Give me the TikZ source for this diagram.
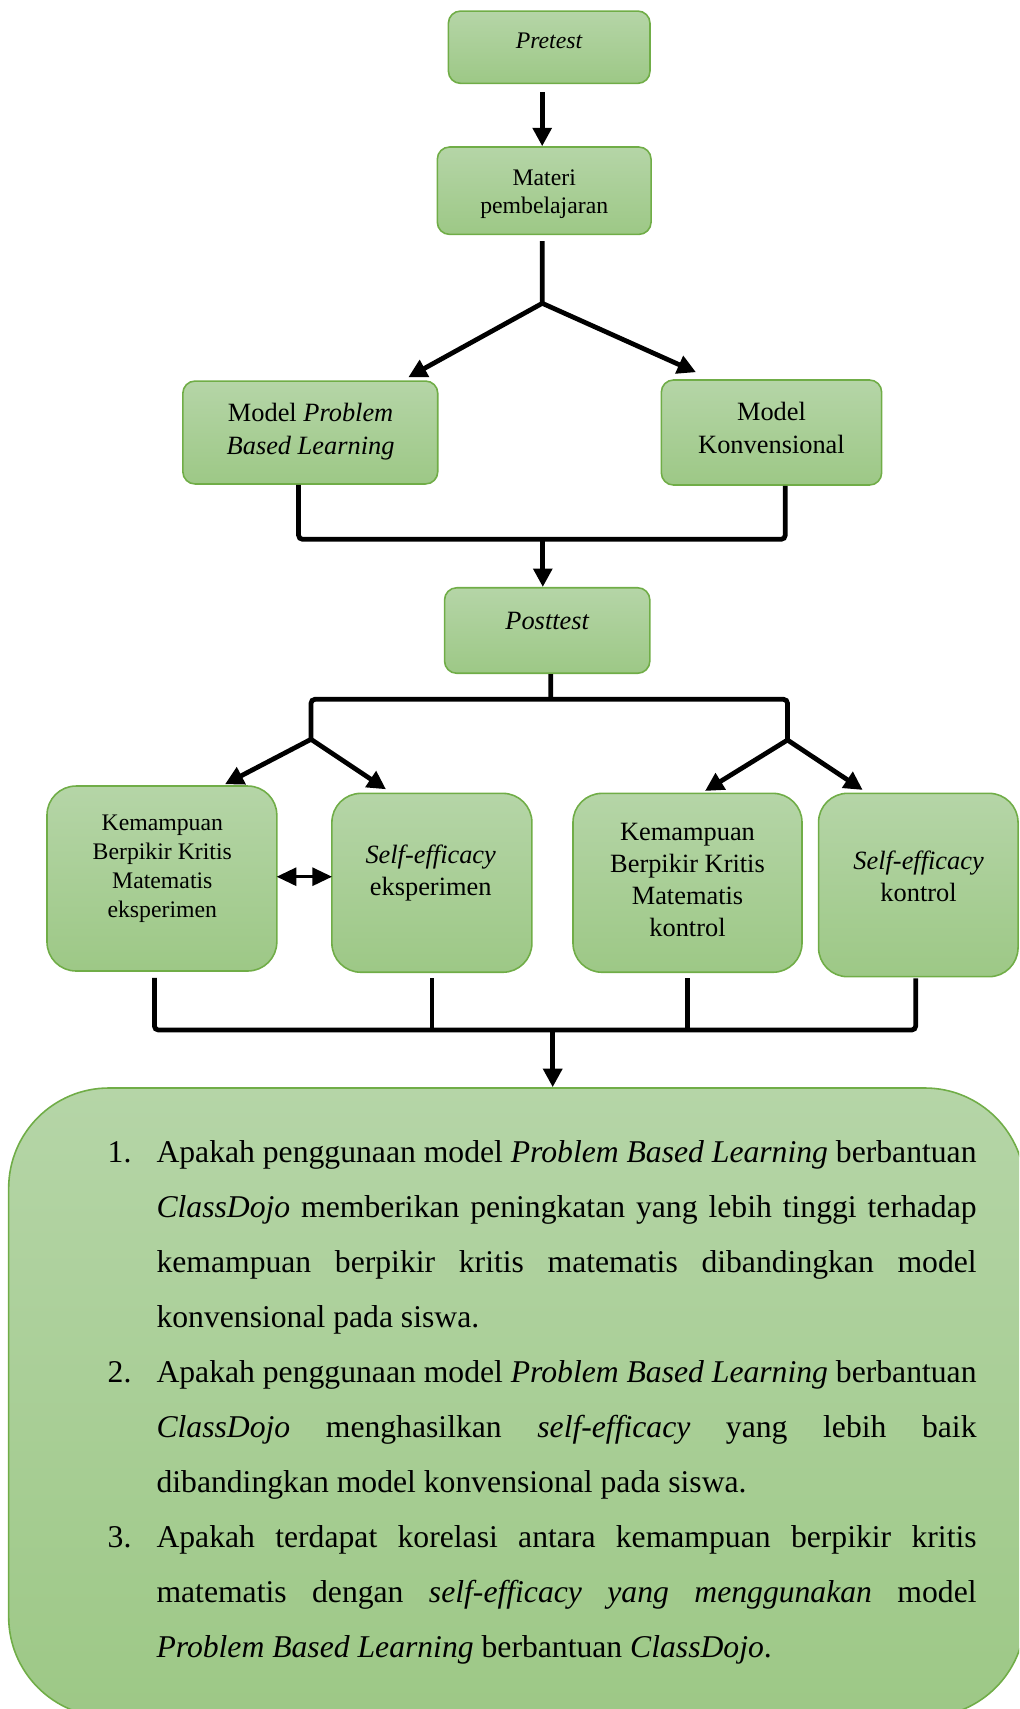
\documentclass[tikz,border=0pt]{standalone}
\usepackage{fontspec}
\setmainfont{Liberation Serif}
\usetikzlibrary{arrows.meta, calc, positioning}
\setlength{\parindent}{0pt}
\definecolor{boxtop}{RGB}{181,213,167}
\definecolor{boxbottom}{RGB}{157,200,134}
\definecolor{boxline}{RGB}{112,173,71}
\tikzstyle{stage} = [rectangle, rounded corners=4.6pt, draw=boxline, line width=0.6pt, top color=boxtop, bottom color=boxbottom, inner sep=0pt]
\tikzstyle{result} = [stage, rounded corners=11pt]
\tikzstyle{arrow} = [line width=1.8pt, -{Triangle[length=7pt,width=7pt]}]
\tikzstyle{joinline} = [line width=1.8pt, rounded corners=1.5pt]
\tikzstyle{twoway} = [line width=1.2pt, {Triangle[length=7.5pt,width=6.8pt]}-{Triangle[length=7.5pt,width=6.8pt]}]

\begin{document}
\begin{tikzpicture}[x=0.379pt, y=-0.379pt]
\useasboundingbox (0,0) rectangle (1019,1709);

% Pretest and material
\node[stage, minimum width=76.4pt, minimum height=27.4pt] (pretest) at (549.2,47.2) {};
\node[font=\fontsize{9pt}{11pt}\selectfont\itshape] (pretest_txt) at (549,40.5) {Pretest};

\node[stage, minimum width=81pt, minimum height=33.1pt] (materi) at (544.2,190.7) {};
\node[font=\fontsize{9pt}{10.7pt}\selectfont, align=center] (materi_txt) at (544.2,194) {Materi\\pembelajaran};

% Learning models
\node[stage, minimum width=96.6pt, minimum height=39pt] (pbl) at (310.3,432.5) {};
\node[font=\fontsize{10pt}{12.4pt}\selectfont, align=center] (pbl_txt) at (310.6,432) {Model \textit{Problem}\\\textit{Based Learning}};

\node[stage, minimum width=83.5pt, minimum height=39.8pt] (konv) at (771.5,432.5) {};
\node[font=\fontsize{10pt}{12.6pt}\selectfont, align=center] (konv_txt) at (771.5,428) {Model\\Konvensional};

% Posttest
\node[stage, minimum width=77.8pt, minimum height=32.4pt] (posttest) at (547.2,630.5) {};
\node[font=\fontsize{10pt}{12pt}\selectfont\itshape] (posttest_txt) at (547.2,621) {Posttest};

% Results
\node[result, minimum width=87.1pt, minimum height=70.1pt] (kbke) at (161.9,878.5) {};
\node[font=\fontsize{9pt}{11pt}\selectfont, align=center] (kbke_txt) at (162.3,869) {Kemampuan\\Berpikir Kritis\\Matematis\\eksperimen};

\node[result, minimum width=75.8pt, minimum height=67.8pt] (sfe) at (431.9,882.8) {};
\node[font=\fontsize{10pt}{12.4pt}\selectfont, align=center] (sfe_txt) at (430.7,873) {\textit{Self-efficacy}\\eksperimen};

\node[result, minimum width=86.8pt, minimum height=67.8pt] (kbkk) at (687.5,882.8) {};
\node[font=\fontsize{10pt}{12.2pt}\selectfont, align=center] (kbkk_txt) at (687.5,880) {Kemampuan\\Berpikir Kritis\\Matematis\\kontrol};

\node[result, minimum width=75.6pt, minimum height=69.5pt] (sfk) at (918.3,885) {};
\node[font=\fontsize{10pt}{12pt}\selectfont, align=center] (sfk_txt) at (918.6,876) {\textit{Self-efficacy}\\kontrol};

% Research questions
\begin{scope}
\clip (0,0) rectangle (1019,1709);
\node[stage, rounded corners=38pt, minimum width=385.2pt, minimum height=238.4pt] (rq) at (516.85,1402.5) {};
\end{scope}
\node[font=\fontsize{12pt}{20.85pt}\selectfont, text width=329.3pt, align=justify, inner sep=0pt, anchor=north west] (rq_txt) at (107.2,1140) {%
\hyphenpenalty=10000 \exhyphenpenalty=10000 \tolerance=10000
\hangindent=18.5pt \hangafter=1 \noindent\makebox[18.5pt][l]{1.}Apakah penggunaan model \textit{Problem Based Learning} berbantuan\linebreak
\textit{ClassDojo} memberikan peningkatan yang lebih tinggi terhadap\linebreak
kemampuan berpikir kritis matematis dibandingkan model\linebreak
konvensional pada siswa.\par
\hangindent=18.5pt \hangafter=1 \noindent\makebox[18.5pt][l]{2.}Apakah penggunaan model \textit{Problem Based Learning} berbantuan\linebreak
\textit{ClassDojo} menghasilkan \textit{self-efficacy} yang lebih baik\linebreak
dibandingkan model konvensional pada siswa.\par
\hangindent=18.5pt \hangafter=1 \noindent\makebox[18.5pt][l]{3.}Apakah terdapat korelasi antara kemampuan berpikir kritis\linebreak
matematis dengan \textit{self-efficacy yang menggunakan} model\linebreak
\textit{Problem Based Learning} berbantuan \textit{ClassDojo}.\par
};

% Connections
\coordinate (split) at (542.3,303.3);
\coordinate (join1) at (542.8,539.3);
\coordinate (join2) at (550.8,699.3);
\coordinate (fork1) at (311,739.3);
\coordinate (fork2) at (787.5,740);
\coordinate (join3) at (552.7,1030);

\draw[arrow] ($(pretest.south)+(-7,8)$) -- ($(materi.north)+(-2,0)$);
\draw[joinline] ($(materi.south)+(-2,6)$) -- (split);
\draw[arrow] (split) -- ($(pbl.north)+(98,-3)$);
\draw[arrow] (split) -- ($(konv.north)+(-75.5,-7)$);

\draw[joinline] ($(pbl.south)+(-11.7,0)$) |- (join1) -| ($(konv.south)+(13.7,0)$);
\draw[arrow] (join1) -- ($(posttest.north)+(-4.4,0)$);

\draw[joinline] ($(posttest.south)+(3.6,0)$) -- (join2);
\draw[joinline] (fork1) |- (join2) -| (fork2);
\draw[arrow] (fork1) -- ($(kbke.north)+(63.1,-1)$);
\draw[arrow] (fork1) -- ($(sfe.north)+(-45.9,-3.3)$);
\draw[arrow] (fork2) -- ($(kbkk.north)+(17.5,-1.6)$);
\draw[arrow] (fork2) -- ($(sfk.north)+(-55.6,-2.6)$);

\draw[twoway] ($(kbke.east)+(-1,-1.8)$) -- ($(kbke.east -| sfe.west)+(1,-1.8)$);

\draw[joinline] ($(kbke.south)+(-7.5,6)$) |- (join3) -| ($(sfk.south)+(-2.6,1)$);
\draw[joinline] ($(sfe.south)+(0,5)$) -- (sfe.south |- join3);
\draw[joinline] ($(kbkk.south)+(0,5)$) -- (kbkk.south |- join3);
\draw[arrow] (join3) -- (join3 |- rq.north);

\end{tikzpicture}
\end{document}
